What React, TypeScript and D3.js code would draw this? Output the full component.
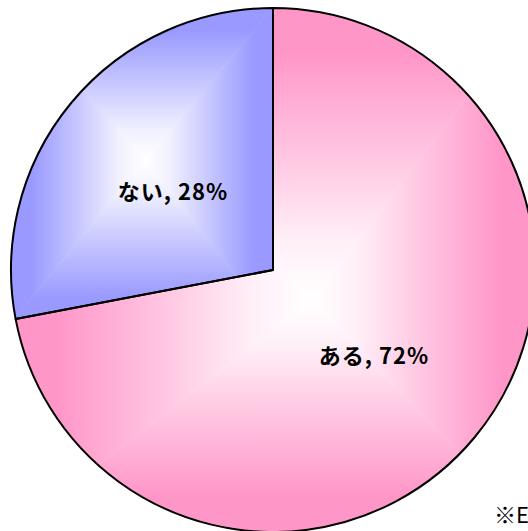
import * as d3 from "d3";

const categories = ["ある", "ない"];
const values = [72, 28];
const edgeColors = ["#ff96c8", "#9999ff"];
const note = "※E";

const W = 528;
const H = 531;
const cx = 273;
const cy = 270;
const R = 262;

// gradient boxes (x0,y0,x1,y1) and white centre for each slice
const boxes = [
  { x0: 11, y0: 8, x1: 535, y1: 532, ax: 312, ay: 300 },
  { x0: 11, y0: 8, x1: 273, y1: 323, ax: 145, ay: 160 },
];
const labelPos = [
  [374, 354],
  [173, 190],
];

function Pyramid({ i, color }: { i: number; color: string }) {
  const b = boxes[i];
  const tris = [
    { pts: [[b.x0, b.y0], [b.x1, b.y0], [b.ax, b.ay]], g: [b.ax, b.y0, b.ax, b.ay] },
    { pts: [[b.x1, b.y0], [b.x1, b.y1], [b.ax, b.ay]], g: [b.x1, b.ay, b.ax, b.ay] },
    { pts: [[b.x1, b.y1], [b.x0, b.y1], [b.ax, b.ay]], g: [b.ax, b.y1, b.ax, b.ay] },
    { pts: [[b.x0, b.y1], [b.x0, b.y0], [b.ax, b.ay]], g: [b.x0, b.ay, b.ax, b.ay] },
  ];
  const mid = d3.interpolateRgb(color, "#ffffff");
  return (
    <g clipPath={`url(#clip${i})`}>
      <defs>
        {tris.map((t, k) => (
          <linearGradient
            key={k}
            id={`g${i}_${k}`}
            gradientUnits="userSpaceOnUse"
            x1={t.g[0]}
            y1={t.g[1]}
            x2={t.g[2]}
            y2={t.g[3]}
          >
            <stop offset="0" stopColor={color} />
            <stop offset="0.15" stopColor={color} />
            <stop offset="0.5" stopColor={mid(0.45)} />
            <stop offset="0.8" stopColor={mid(0.85)} />
            <stop offset="1" stopColor="#ffffff" />
          </linearGradient>
        ))}
      </defs>
      {tris.map((t, k) => (
        <polygon
          key={k}
          points={t.pts.map((p) => p.join(",")).join(" ")}
          fill={`url(#g${i}_${k})`}
          stroke={`url(#g${i}_${k})`}
          strokeWidth={0.6}
        />
      ))}
    </g>
  );
}

export default function App() {
  const pie = d3.pie<number>().sort(null).startAngle(0).endAngle(2 * Math.PI);
  const arcs = pie(values);
  const arc = d3.arc<d3.PieArcDatum<number>>().innerRadius(0).outerRadius(R);

  return (
    <svg
      width={W}
      height={H}
      style={{ position: "absolute", left: 0, top: 0, background: "#fff" }}
    >
      <defs>
        {arcs.map((a, i) => (
          <clipPath key={i} id={`clip${i}`}>
            <path d={arc(a) || ""} transform={`translate(${cx},${cy})`} />
          </clipPath>
        ))}
      </defs>
      {arcs.map((a, i) => (
        <Pyramid key={i} i={i} color={edgeColors[i]} />
      ))}
      <g transform={`translate(${cx},${cy})`}>
        {arcs.map((a, i) => (
          <path key={i} d={arc(a) || ""} fill="none" stroke="#000" strokeWidth={2} strokeLinejoin="round" />
        ))}
      </g>
      {arcs.map((a, i) => (
        <text
          key={i}
          x={labelPos[i][0]}
          y={labelPos[i][1]}
          textAnchor="middle"
          dominantBaseline="central"
          fontFamily="'Noto Sans CJK JP', sans-serif"
          fontWeight="bold"
          fontSize={22}
          letterSpacing={1}
          fill="#000"
        >
          {`${categories[i]}, ${values[i]}%`}
        </text>
      ))}
      <text x={494} y={523} fontFamily="'Noto Sans CJK JP', sans-serif" fontSize={22} fill="#000">
        {note}
      </text>
    </svg>
  );
}
